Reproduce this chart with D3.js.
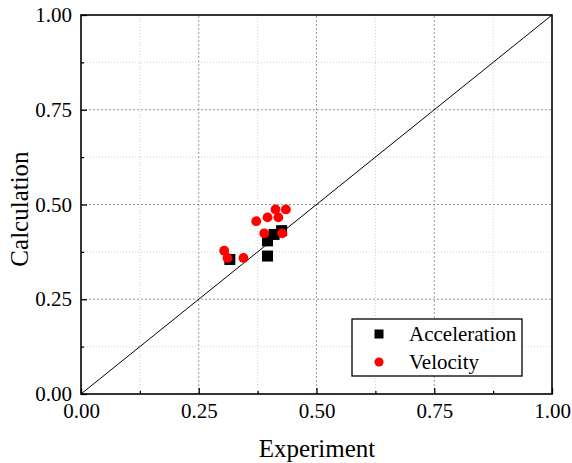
<!DOCTYPE html>
<html><head><meta charset="utf-8">
<script src="https://cdn.jsdelivr.net/npm/d3@7"></script>
</head><body style="margin:0">
<script>
const accX = [0.316, 0.396, 0.396, 0.410, 0.426];
const accY = [0.355, 0.364, 0.404, 0.421, 0.431];
const velX = [0.304, 0.311, 0.345, 0.372, 0.389, 0.396, 0.413, 0.419, 0.435, 0.427];
const velY = [0.378, 0.359, 0.359, 0.456, 0.424, 0.466, 0.487, 0.466, 0.487, 0.424];
const majorTicks = [0, 0.25, 0.5, 0.75, 1.0];
const minorTicks = [0.125, 0.375, 0.625, 0.875];
const seriesNames = ["Acceleration", "Velocity"];

const FONT = '"Liberation Serif"';
const W = 572, H = 463;
const m = {left: 81, top: 15, right: 20, bottom: 69};
const svg = d3.select("body").append("svg").attr("width", W).attr("height", H).style("display", "block");
const x = d3.scaleLinear().domain([0, 1]).range([m.left, W - m.right]);
const y = d3.scaleLinear().domain([0, 1]).range([H - m.bottom, m.top]);

const g = svg.append("g");
minorTicks.forEach(t => {
  g.append("line").attr("x1", x(t)).attr("x2", x(t)).attr("y1", y(0)).attr("y2", y(1))
    .attr("stroke", "#d0d0d0").attr("stroke-dasharray", "1,2");
  g.append("line").attr("y1", y(t)).attr("y2", y(t)).attr("x1", x(0)).attr("x2", x(1))
    .attr("stroke", "#d0d0d0").attr("stroke-dasharray", "1,2");
});
majorTicks.slice(1, 4).forEach(t => {
  g.append("line").attr("x1", x(t)).attr("x2", x(t)).attr("y1", y(0)).attr("y2", y(1))
    .attr("stroke", "#999").attr("stroke-dasharray", "2,2");
  g.append("line").attr("y1", y(t)).attr("y2", y(t)).attr("x1", x(0)).attr("x2", x(1))
    .attr("stroke", "#999").attr("stroke-dasharray", "2,2");
});

g.append("line").attr("x1", x(0)).attr("y1", y(0)).attr("x2", x(1)).attr("y2", y(1))
  .attr("stroke", "#000").attr("stroke-width", 1);

g.append("rect").attr("x", x(0)).attr("y", y(1)).attr("width", x(1) - x(0)).attr("height", y(0) - y(1))
  .attr("fill", "none").attr("stroke", "#000").attr("stroke-width", 1.6);

const xAxis = d3.axisBottom(x).tickValues(majorTicks).tickFormat(d3.format(".2f")).tickSize(-6).tickPadding(9);
const yAxis = d3.axisLeft(y).tickValues(majorTicks).tickFormat(d3.format(".2f")).tickSize(-6).tickPadding(9);
const gx = svg.append("g").attr("transform", `translate(0,${y(0)})`).call(xAxis);
const gy = svg.append("g").attr("transform", `translate(${x(0)},0)`).call(yAxis);
[gx, gy].forEach(a => {
  a.attr("font-family", null).attr("font-size", null);
  a.select(".domain").remove();
  a.selectAll("line").attr("stroke", "#000").attr("stroke-width", 1.3);
  a.selectAll("text").style("font-family", FONT).style("font-size", "21px").attr("fill", "#000");
});
const gxm = svg.append("g").attr("transform", `translate(0,${y(0)})`).call(d3.axisBottom(x).tickValues(minorTicks).tickSize(-3).tickFormat(""));
const gym = svg.append("g").attr("transform", `translate(${x(0)},0)`).call(d3.axisLeft(y).tickValues(minorTicks).tickSize(-3).tickFormat(""));
[gxm, gym].forEach(a => { a.select(".domain").remove(); a.selectAll("line").attr("stroke", "#000").attr("stroke-width", 1.3); });

const acc = accX.map((v, i) => ({x: v, y: accY[i]}));
const vel = velX.map((v, i) => ({x: v, y: velY[i]}));
const sq = 11;
svg.append("g").selectAll("rect").data(acc).join("rect")
  .attr("x", d => x(d.x) - sq / 2).attr("y", d => y(d.y) - sq / 2)
  .attr("width", sq).attr("height", sq).attr("fill", "#000");
svg.append("g").selectAll("circle").data(vel).join("circle")
  .attr("cx", d => x(d.x)).attr("cy", d => y(d.y)).attr("r", 4.9).attr("fill", "#ff0000");

const lg = svg.append("g");
lg.append("rect").attr("x", 352).attr("y", 319).attr("width", 170).attr("height", 57)
  .attr("fill", "#fff").attr("stroke", "#000").attr("stroke-width", 1.3);
lg.append("rect").attr("x", 379 - 4.5).attr("y", 334 - 4.5).attr("width", 9).attr("height", 9).attr("fill", "#000");
lg.append("circle").attr("cx", 379).attr("cy", 362).attr("r", 4.6).attr("fill", "#ff0000");
lg.append("text").attr("x", 409).attr("y", 341).style("font-family", FONT).style("font-size", "21px").text(seriesNames[0]);
lg.append("text").attr("x", 409).attr("y", 369).style("font-family", FONT).style("font-size", "21px").text(seriesNames[1]);

svg.append("text").attr("x", 317).attr("y", 457).attr("text-anchor", "middle")
  .style("font-family", FONT).style("font-size", "25px").text("Experiment");
svg.append("text").attr("transform", `translate(28,209) rotate(-90)`).attr("text-anchor", "middle")
  .style("font-family", FONT).style("font-size", "25px").text("Calculation");
</script>
</body></html>
